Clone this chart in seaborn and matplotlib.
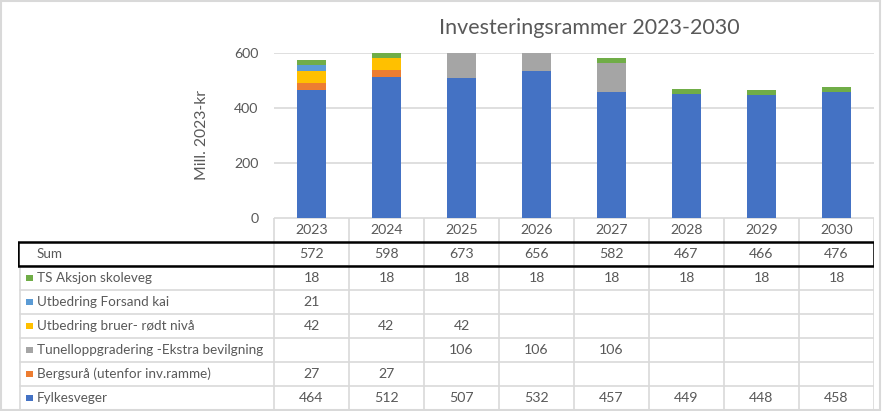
import matplotlib
matplotlib.use("Agg")
import matplotlib.pyplot as plt
import numpy as np
import pandas as pd
import seaborn as sns
from matplotlib.patches import Rectangle

years = ["2023", "2024", "2025", "2026", "2027", "2028", "2029", "2030"]
sum_total = [572, 598, 673, 656, 582, 467, 466, 476]
ts_aksjon = [18, 18, 18, 18, 18, 18, 18, 18]
forsand_kai = [21, None, None, None, None, None, None, None]
bruer = [42, 42, 42, None, None, None, None, None]
tunell = [None, None, 106, 106, 106, None, None, None]
bergsura = [27, 27, None, None, None, None, None, None]
fylkesveger = [464, 512, 507, 532, 457, 449, 448, 458]

# stack order, bottom to top
series = [
    ("Fylkesveger", fylkesveger, "#4472C4"),
    ("Bergsurå (utenfor inv.ramme)", bergsura, "#ED7D31"),
    ("Tunelloppgradering -Ekstra bevilgning", tunell, "#A5A5A5"),
    ("Utbedring bruer- rødt nivå", bruer, "#FFC000"),
    ("Utbedring Forsand kai", forsand_kai, "#5B9BD5"),
    ("TS Aksjon skoleveg", ts_aksjon, "#70AD47"),
]

sns.set_style("white")
plt.rcParams["font.family"] = ["Lato", "DejaVu Sans"]
text_col = "#595959"
grid_col = "#d9d9d9"

W, H = 882, 411
fig = plt.figure(figsize=(W / 100, H / 100), dpi=100)


def px_rect(x0, y0, x1, y1):
    return [x0 / W, 1 - y1 / H, (x1 - x0) / W, (y1 - y0) / H]


# ---- bars
ax = fig.add_axes(px_rect(274, 52.7, 874, 218))
df = pd.DataFrame({name: vals for name, vals, _ in series}, index=years).astype(float).fillna(0)
cum = df.cumsum(axis=1)
for name, _, color in reversed(series):
    sns.barplot(x=years, y=cum[name].values, color=color, saturation=1, width=0.39,
                errorbar=None, linewidth=0, ax=ax, zorder=2)
ax.set_ylim(0, 600)
ax.set_xlim(-0.5, len(years) - 0.5)
ax.set_yticks([0, 200, 400, 600])
ax.yaxis.grid(True, color=grid_col, linewidth=1.2, zorder=0)
ax.set_axisbelow(True)
for s in ax.spines.values():
    s.set_visible(False)
ax.tick_params(axis="y", length=0, pad=11, labelsize=10.2, labelcolor=text_col)
ax.tick_params(axis="x", length=0, labelbottom=False)
ax.set_ylabel("Mill. 2023-kr", fontsize=11.3, color=text_col)
ax.yaxis.set_label_coords(-0.108, 0.5)
fig.text(589 / W, 1 - 28 / H, "Investeringsrammer 2023-2030", ha="center", va="center",
         fontsize=15.5, color=text_col)

# ---- data table
tab = fig.add_axes(px_rect(18, 218, 874, 410))
left = -0.5 - (274 - 18) / 75
lab_left = -0.5 - (274 - 20) / 75
tab.set_xlim(left, len(years) - 0.5)
tab.set_ylim(8, 0)
tab.axis("off")

for i in range(len(years) + 1):
    tab.plot([i - 0.5, i - 0.5], [0, 8], color=grid_col, lw=1.2)
tab.plot([-0.5, len(years) - 0.5], [0, 0], color=grid_col, lw=1.2)
for r in range(2, 9):
    tab.plot([lab_left, len(years) - 0.5], [r, r], color=grid_col, lw=1.2)
tab.plot([lab_left, lab_left], [2, 8], color=grid_col, lw=1.2)
tab.add_patch(Rectangle((left + 0.005, 1), len(years) - 0.5 - left - 0.01, 1,
                        fill=False, edgecolor="black", lw=1.8, zorder=5))

fs_num = 10.2
fs_lab = 9.7
for i, y in enumerate(years):
    tab.text(i, 0.5, y, ha="center", va="center", fontsize=fs_num, color=text_col)

rows = [("Sum", sum_total, None)] + [(n, v, c) for n, v, c in reversed(series)]
key_w = 7 / 75
for r, (name, vals, color) in enumerate(rows, start=1):
    yc = r + 0.5
    if color is not None:
        kx = -0.5 - (274 - 26) / 75
        tab.add_patch(Rectangle((kx, yc - 0.145), key_w, 0.29, color=color, lw=0))
    tab.text(-0.5 - (274 - 37) / 75, yc, name, ha="left", va="center", fontsize=fs_lab, color=text_col)
    for i, v in enumerate(vals):
        if v is not None:
            tab.text(i, yc, f"{v:d}", ha="center", va="center", fontsize=fs_num, color=text_col)

fig.patches.append(Rectangle((0.001, 0.002), 0.997, 0.996, transform=fig.transFigure,
                             fill=False, edgecolor=grid_col, lw=1.5))
fig.savefig("out.png", dpi=100)
